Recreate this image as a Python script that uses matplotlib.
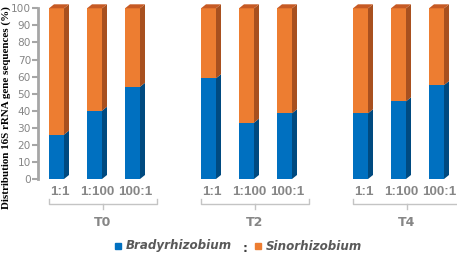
import numpy as np
import matplotlib
matplotlib.use('Agg')
from matplotlib import pyplot as plt
from matplotlib.patches import Polygon, Rectangle

# data
groups = ['T0', 'T2', 'T4']
ratios = ['1:1', '1:100', '100:1']
brady = [26, 40, 54, 59, 33, 38.5, 38.5, 45.5, 55]
sino = [100 - b for b in brady]

blue, blue_side = '#0070c0', '#004a80'
orange, orange_side, orange_top = '#ed7d31', '#a8501f', '#c65a24'
grey = '#a6a6a6'
txt_grey = '#868686'
sans = 'DejaVu Sans'

W, H = 457, 257
fig = plt.figure(figsize=(W / 100, H / 100), dpi=100)
# axes placed in pixel coordinates
ax_l, ax_r, ax_b, ax_t = 38, 457, 179, 1.5
ax = fig.add_axes([ax_l / W, 1 - ax_b / H, (ax_r - ax_l) / W, (ax_b - ax_t) / H])

unit = 38.0  # px per x unit
x0 = 56.5    # px of first bar centre
ax.set_xlim(-(x0 - ax_l) / unit, (ax_r - x0) / unit)
ax.set_ylim(0, (ax_b - ax_t) / 1.707)

pos = np.array([g * 4 + i for g in range(3) for i in range(3)], dtype=float)
w = 15 / unit
dx = 5 / unit
dy = 4 / 1.707

for x, b, s in zip(pos, brady, sino):
    xl, xr = x - w / 2, x + w / 2
    ax.add_patch(Rectangle((xl, 0), w, b, color=blue, lw=0))
    ax.add_patch(Rectangle((xl, b), w, s, color=orange, lw=0))
    # side faces
    ax.add_patch(Polygon([(xr, 0), (xr + dx, dy), (xr + dx, b + dy), (xr, b)],
                         color=blue_side, lw=0))
    ax.add_patch(Polygon([(xr, b), (xr + dx, b + dy), (xr + dx, 100 + dy), (xr, 100)],
                         color=orange_side, lw=0))
    # top face
    ax.add_patch(Polygon([(xl, 100), (xl + dx, 100 + dy), (xr + dx, 100 + dy), (xr, 100)],
                         color=orange_top, lw=0))

for sp in ['top', 'right', 'bottom']:
    ax.spines[sp].set_visible(False)
ax.spines['left'].set_color(grey)
ax.spines['left'].set_linewidth(2)
ax.spines['left'].set_bounds(0, 100)
ax.set_yticks(np.arange(0, 101, 10))
ax.tick_params(axis='y', colors=grey, length=4, width=1.5, labelcolor=txt_grey,
               labelsize=7.6, pad=1)
for lab in ax.get_yticklabels():
    lab.set_fontfamily(sans)
ax.set_xticks([])

fig.text(6.5 / W, 1 - 107.5 / H, 'Distribution 16S rRNA gene sequences (%)',
         fontfamily='Liberation Serif', fontweight='bold', fontsize=7.9,
         rotation=90, ha='center', va='center', color='black')

# category labels and braces below the axes
trans = ax.get_xaxis_transform()
def yfrac(p):
    return (ax_b - p) / (ax_b - ax_t)

for x, r in zip(pos, ratios * 3):
    ax.text(x + 0.08, yfrac(192), r, transform=trans, ha='center', va='center',
            fontsize=9.6, fontweight='bold', color=txt_grey,
            fontfamily='Liberation Sans', clip_on=False)

for g, name in enumerate(groups):
    left = pos[g * 3] - w / 2
    right = pos[g * 3 + 2] + w / 2 + 0.45
    mid = (left + right) / 2
    ys, yh, ym = yfrac(199), yfrac(204), yfrac(209)
    ax.plot([left, left, right, right], [ys, yh, yh, ys], transform=trans,
            color='#c4c4c4', lw=1, clip_on=False)
    ax.plot([mid, mid], [yh, ym], transform=trans, color='#c4c4c4', lw=1, clip_on=False)
    ax.text(mid, yfrac(223), name, transform=trans, ha='center', va='center',
            fontsize=9, fontweight='bold', color=txt_grey, fontfamily=sans,
            clip_on=False)

# legend
fig.patches.append(Rectangle((115 / W, 1 - 249 / H), 6 / W, 6 / H, color=blue,
                             transform=fig.transFigure))
fig.text(126 / W, 1 - 246 / H, 'Bradyrhizobium', fontsize=8.6, fontweight='bold',
         fontstyle='italic', color='#595959', va='center', fontfamily=sans)
fig.text(245 / W, 1 - 248 / H, ':', fontsize=8.5, fontweight='bold',
         color='#404040', va='center', ha='center', fontfamily=sans)
fig.patches.append(Rectangle((255 / W, 1 - 249 / H), 6 / W, 6 / H, color=orange,
                             transform=fig.transFigure))
fig.text(266 / W, 1 - 246 / H, 'Sinorhizobium', fontsize=8.6, fontweight='bold',
         fontstyle='italic', color='#595959', va='center', fontfamily=sans)

fig.savefig('out.png', dpi=100)
